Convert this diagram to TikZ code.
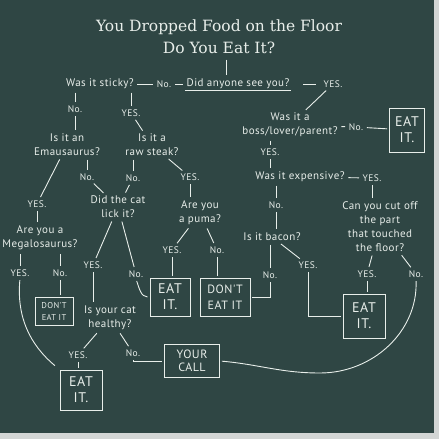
\documentclass[tikz,border=0pt]{standalone}
\usepackage{fontspec}
\newfontfamily\chalkfont{PT Sans}[LetterSpace=4]
\newfontfamily\titlefont{DejaVu Serif}
\usepackage{tikz}
\usetikzlibrary{calc}
\usepackage{xcolor}
\definecolor{boardcolor}{HTML}{2F4644}
\definecolor{chalkcolor}{HTML}{E8EEEA}
\definecolor{framecolor}{HTML}{D3D6D5}

\begin{document}
\begin{tikzpicture}[
    x=1pt, y=-1pt,
    ask/.style={align=center, text=chalkcolor, font=\chalkfont\fontsize{11}{14}\selectfont, inner sep=1.5pt},
    answer/.style={text=chalkcolor, font=\chalkfont\fontsize{9.5}{11}\selectfont, inner sep=1.5pt},
    verdict/.style={draw=chalkcolor, line width=0.9pt, align=center, text=chalkcolor, font=\chalkfont\fontsize{14}{16}\selectfont, inner sep=1pt},
    chalk/.style={draw=chalkcolor, line width=0.9pt, shorten <=2pt, shorten >=2pt},
]

\fill[framecolor] (0,0) rectangle (439,439);
\fill[boardcolor] (0,0) rectangle (434,433);

\node[text=chalkcolor, font=\titlefont\fontsize{15.5}{22}\selectfont, align=center] (title) at (219,37) {You Dropped Food on the Floor\\Do You Eat It?};

\node[ask] (sticky) at (100,84) {Was it sticky?};
\node[answer] (stickyno) at (164,84) {No.};
\node[ask] (seen) at (238,84) {Did anyone see you?};
\node[answer] (seenyes) at (333,84) {YES.};
\node[ask] (boss) at (290,125) {Was it a\\boss/lover/parent?};
\node[answer] (bossno) at (356,127) {No.};
\node[verdict, minimum width=35, minimum height=44] (eat1) at (407,130) {EAT\\IT.};
\node[answer] (bossyes) at (270,152) {YES.};
\node[ask] (expensive) at (300,177) {Was it expensive?};
\node[answer] (expyes) at (372,178) {YES.};
\node[answer] (expno) at (276,205) {No.};
\node[ask] (bacon) at (272,237) {Is it bacon?};
\node[answer] (baconno) at (270,275) {No.};
\node[answer] (baconyes) at (308,265) {YES.};
\node[ask] (cut) at (380,227) {Can you cut off\\the part\\that touched\\the floor?};
\node[answer] (cutyes) at (367,274) {YES.};
\node[answer] (cutno) at (416,274) {No.};
\node[verdict, minimum width=42, minimum height=44] (eat2) at (364,316) {EAT\\IT.};

\node[answer] (stickydown) at (75,109) {No.};
\node[answer] (stickyyes) at (131,113) {YES.};
\node[ask] (emau) at (67,145) {Is it an\\Emausaurus?};
\node[ask] (steak) at (152,145) {Is it a\\raw steak?};
\node[answer] (emauyes) at (37,204) {YES.};
\node[answer] (emauno) at (87,177) {No.};
\node[answer] (steakno) at (133,178) {No.};
\node[answer] (steakyes) at (190,177) {YES.};
\node[ask] (lick) at (118,207) {Did the cat\\lick it?};
\node[ask] (puma) at (200,213) {Are you\\a puma?};
\node[ask] (megalo) at (40,238) {Are you a\\Megalosaurus?};
\node[answer] (megayes) at (20,273) {YES.};
\node[answer] (megano) at (60,273) {No.};
\node[verdict, minimum width=38, minimum height=28, font=\chalkfont\fontsize{8.5}{12}\selectfont] (dont1) at (54,311) {DON'T\\EAT IT};
\node[answer] (lickyes) at (93,265) {YES.};
\node[answer] (lickno) at (136,274) {No.};
\node[answer] (pumayes) at (172,250) {YES.};
\node[answer] (pumano) at (217,250) {No.};
\node[verdict, minimum width=40, minimum height=38] (eat3) at (170,297) {EAT\\IT.};
\node[verdict, minimum width=50, minimum height=38, font=\chalkfont\fontsize{12}{16}\selectfont] (dont2) at (225,297) {DON'T\\EAT IT};
\node[ask] (healthy) at (110,318) {Is your cat\\healthy?};
\node[answer] (healthyes) at (78,355) {YES.};
\node[answer] (healthno) at (133,353) {No.};
\node[verdict, minimum width=42, minimum height=40] (eat4) at (81,390) {EAT\\IT.};
\node[verdict, minimum width=55, minimum height=33, font=\chalkfont\fontsize{12}{13}\selectfont] (call) at (192,361) {YOUR\\CALL};
\coordinate (loop) at (320,373);

\draw[chalk] ([xshift=7pt]title.south) -- ([xshift=-12pt]seen.north);
\draw[chalk] (sticky) -- (stickyno);
\draw[chalk] (stickyno) -- (seen);
\draw[chalk, shorten <=0pt, shorten >=0pt] (seen.south west) -- (seen.south east);
\draw[chalk, shorten <=12pt, shorten >=6pt] (seen) -- (seenyes);
\draw[chalk] (seenyes) -- (boss);
\draw[chalk] (boss) -- (bossno);
\draw[chalk] (bossno) -- (eat1);
\draw[chalk] (bossyes |- boss.south) -- (bossyes);
\draw[chalk] (bossyes) -- (bossyes |- expensive.north);
\draw[chalk] (expensive) -- (expyes);
\draw[chalk] (expyes) -- (expyes |- cut.north);
\draw[chalk] (expno |- expensive.south) -- (expno);
\draw[chalk] (expno) -- (expno |- bacon.north);
\draw[chalk] (baconno |- bacon.south) -- (baconno);
\draw[chalk] (baconno.south) |- (dont2.east);
\draw[chalk] (bacon) -- (baconyes);
\draw[chalk] (baconyes.south) |- (eat2.west);
\draw[chalk] (cut) -- (cutyes);
\draw[chalk] (cutyes) -- (cutyes |- eat2.north);
\draw[chalk] (cut) -- (cutno);
\draw[chalk] (cutno.south) to[out=-88, in=0] (loop) to[out=180, in=-5] (call.east);

\draw[chalk] (stickydown |- sticky.south) -- (stickydown);
\draw[chalk] (stickydown) -- (stickydown |- emau.north);
\draw[chalk] (stickyyes |- sticky.south) -- (stickyyes);
\draw[chalk] (stickyyes) -- (steak);
\draw[chalk] (emau) -- (emauyes);
\draw[chalk] (emauyes) -- (emauyes |- megalo.north);
\draw[chalk] (emauno |- emau.south) -- (emauno);
\draw[chalk] (emauno) -- (lick);
\draw[chalk] (steakno |- steak.south) -- (steakno);
\draw[chalk] (steakno) -- (lick);
\draw[chalk] (steak) -- (steakyes);
\draw[chalk] (steakyes) -- (steakyes |- puma.north);
\draw[chalk] (megayes |- megalo.south) -- (megayes);
\draw[chalk] (megano |- megalo.south) -- (megano);
\draw[chalk] (megano) -- (megano |- dont1.north);
\draw[chalk, shorten >=6pt] (megayes.south) to[out=-95, in=140] (eat4.north west);
\draw[chalk] (lick) -- (lickyes);
\draw[chalk] (lickyes) -- (lickyes |- healthy.north);
\draw[chalk] (lick) -- (lickno);
\draw[chalk] (lickno.south) to[out=-70, in=180] (eat3.west);
\draw[chalk] (puma) -- (pumayes);
\draw[chalk] (pumayes) -- (pumayes |- eat3.north);
\draw[chalk] (puma) -- (pumano);
\draw[chalk] (pumano) -- (pumano |- dont2.north);
\draw[chalk] (healthy) -- (healthyes);
\draw[chalk] (healthyes) -- (healthyes |- eat4.north);
\draw[chalk] (healthy) -- (healthno);
\draw[chalk] (healthno.south) |- (call.west);

\end{tikzpicture}
\end{document}
